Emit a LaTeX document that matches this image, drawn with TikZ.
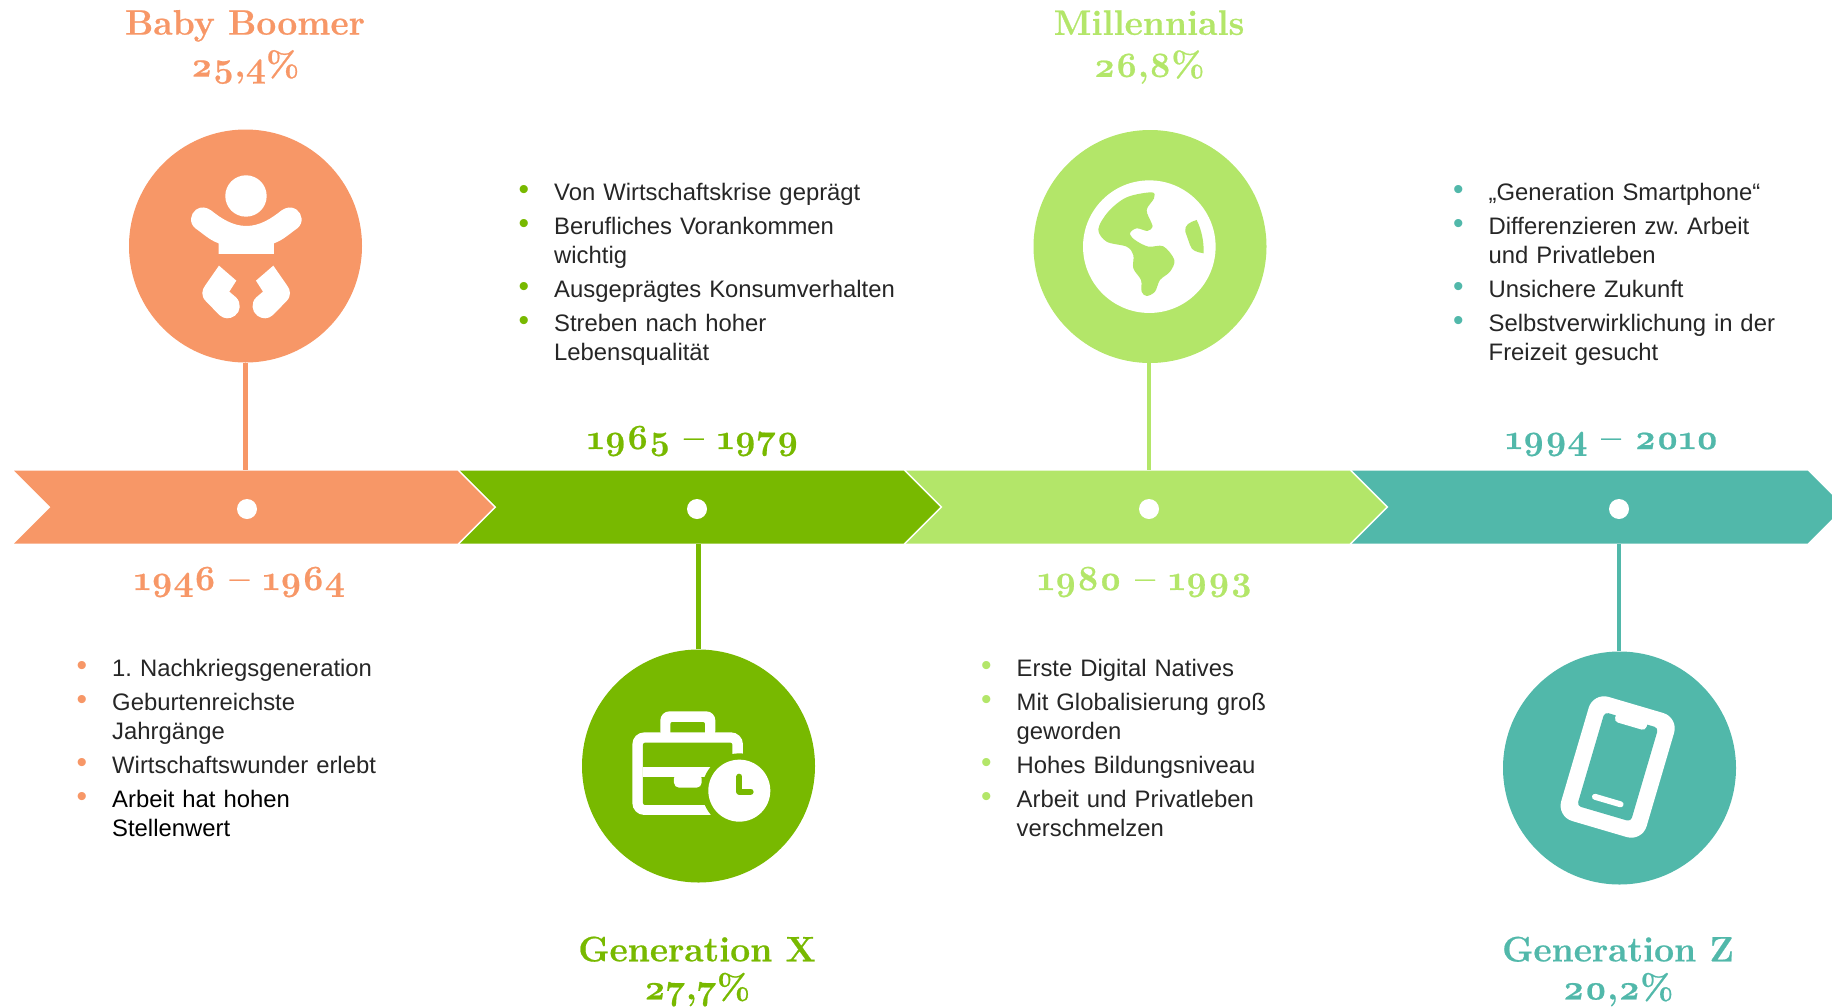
\documentclass[tikz,border=0pt]{standalone}
\usepackage{fontspec}
\newfontfamily\bodyfont{Liberation Sans}
\newfontfamily\headfont[Numbers=OldStyle,BoldFeatures={FakeBold=0.6}]{Latin Modern Roman}
\usetikzlibrary{calc,shapes.symbols,positioning}
\definecolor{boomer}{HTML}{F79767}
\definecolor{genx}{HTML}{78B900}
\definecolor{mill}{HTML}{B3E669}
\definecolor{genz}{HTML}{51B8AA}
\definecolor{bodygray}{HTML}{262626}
\newenvironment{genlist}[1]{\frenchspacing\begin{list}{\textcolor{#1}{\fontsize{30}{30}\selectfont\raisebox{1pt}{\textbullet}}}{\setlength\leftmargin{31pt}\setlength\labelwidth{20pt}\setlength\labelsep{25pt}\setlength\itemsep{5pt}\setlength\parsep{0pt}\setlength\topsep{0pt}\setlength\partopsep{0pt}}}{\end{list}}
\tikzset{x=1pt, y=-1pt,
  segment/.style={signal, signal to=east, signal from=west, signal pointer angle=90, minimum height=73pt, inner sep=0pt, fill=#1, draw=none},
  gencircle/.style={circle, minimum size=233pt, inner sep=0pt, fill=#1},
  bardot/.style={circle, minimum size=20pt, inner sep=0pt, fill=white},
  stem/.style={line width=4.5pt, draw=#1},
  heading/.style={text=#1, font=\headfont\fontsize{35.4}{42}\selectfont\bfseries, align=center, inner sep=0pt},
  years/.style={anchor=base, text=#1, font=\headfont\fontsize{35.4}{40}\selectfont\bfseries, inner sep=0pt},
  itemlist/.style={anchor=north west, text width=#1, inner sep=0pt, text=bodygray, font=\bodyfont\fontsize{23.85}{29}\selectfont},
  zoomed/.style={x=0.3333pt, y=-0.3333pt}}

\begin{document}
\begin{tikzpicture}
    \useasboundingbox (0,0) rectangle (1832,1007);
    \clip (0,0) rectangle (1832,1007);
    \node[segment=boomer, minimum width=480pt] (S1) at (254,507) {};
    \node[segment=genx, minimum width=480pt] (S2) at (700,507) {};
    \node[segment=mill, minimum width=480pt] (S3) at (1146,507) {};
    \node[segment=genz, minimum width=492pt] (S4) at (1598,507) {};

    \node[bardot] (D1) at (247,509) {};
    \node[bardot] (D2) at (697,509) {};
    \node[bardot] (D3) at (1149,509) {};
    \node[bardot] (D4) at (1619,509) {};

    \node[gencircle=boomer] (C1) at (245.5,246) {};
    \node[gencircle=genx] (C2) at (698.5,766) {};
    \node[gencircle=mill] (C3) at (1150,246.5) {};
    \node[gencircle=genz] (C4) at (1619.5,768) {};

    \draw[stem=boomer] (C1.south) -- (C1.south |- S1.north);
    \draw[stem=genx] (C2.north) -- (C2.north |- S2.south);
    \draw[stem=mill] (D3 |- C3.south) -- (D3 |- S3.north);
    \draw[stem=genz] (D4 |- C4.north) -- (D4 |- S4.south);

    \node[heading=boomer] (H1) at (245,47) {Baby Boomer\\25,4\%};
    \node[heading=genx] (H2) at (697,971.5) {Generation X\\[-4pt]27,7\%};
    \node[heading=mill] (H3) at (1149,47) {Millennials\\26,8\%};
    \node[heading=genz] (H4) at (1618,971.5) {Generation Z\\[-4pt]20,2\%};

    \node[years=boomer] (Y1) at (239.5,590) {1946 – 1964};
    \node[years=genx] (Y2) at (693,449) {1965 – 1979};
    \node[years=mill] (Y3) at (1145,590) {1980 – 1993};
    \node[years=genz] (Y4) at (1612,449) {1994 – 2010};

    \node[itemlist=320pt] (L1) at (81,647) {\begin{genlist}{boomer}
        \item 1. Nachkriegsgeneration
        \item Geburtenreichste\newline Jahrgänge
        \item Wirtschaftswunder erlebt
        \item \textcolor{black}{Arbeit hat hohen\newline Stellenwert}
    \end{genlist}};
    \node[itemlist=420pt] (L2) at (523,171) {\begin{genlist}{genx}
        \item Von Wirtschaftskrise geprägt
        \item Berufliches Vorankommen\newline wichtig
        \item Ausgeprägtes Konsumverhalten
        \item Streben nach hoher\newline Lebensqualität
    \end{genlist}};
    \node[itemlist=320pt] (L3) at (985.5,647) {\begin{genlist}{mill}
        \item Erste Digital Natives
        \item Mit Globalisierung groß\newline geworden
        \item Hohes Bildungsniveau
        \item Arbeit und Privatleben\newline verschmelzen
    \end{genlist}};
    \node[itemlist=340pt] (L4) at (1457.5,171) {\begin{genlist}{genz}
        \item „Generation Smartphone“
        \item Differenzieren zw. Arbeit\newline und Privatleben
        \item Unsichere Zukunft
        \item Selbstverwirklichung in der\newline Freizeit gesucht
    \end{genlist}};

    \begin{scope}[shift={(100,110)}, zoomed]
        \fill[white] (438,258) circle (20.7pt);
        \fill[white] (356,432) -- (522,432) -- (522,400) .. controls (550,390) and (570,370) .. (592,355)
            .. controls (612,338) and (607,312) .. (590,299) .. controls (575,288) and (558,292) .. (545,301)
            .. controls (515,325) and (480,348) .. (439,348) .. controls (398,348) and (363,325) .. (333,301)
            .. controls (320,292) and (303,288) .. (288,299) .. controls (271,312) and (266,338) .. (286,355)
            .. controls (308,370) and (328,390) .. (356,400) -- cycle;
        \fill[white] (357,467) -- (409,512) -- (388,545) -- (408,562) .. controls (425,578) and (422,605) .. (405,617)
            .. controls (390,628) and (372,628) .. (358,615) -- (318,574) .. controls (302,558) and (305,540) .. (316,526) -- cycle;
        \fill[white] (520,467) -- (468,512) -- (489,545) -- (469,562) .. controls (452,578) and (455,605) .. (472,617)
            .. controls (487,628) and (505,628) .. (519,615) -- (559,574) .. controls (575,558) and (572,540) .. (561,526) -- cycle;
    \end{scope}

    \begin{scope}[shift={(560,640)}, zoomed]
        \fill[white, rounded corners=9pt] (301,300) rectangle (466,214);
        \fill[genx, rounded corners=2pt] (331,300) rectangle (435,246);
        \fill[white, rounded corners=12pt] (217,277) rectangle (549,525);
        \fill[genx, rounded corners=2pt] (249,308) rectangle (517,495);
        \fill[white] (249,380) rectangle (517,411);
        \fill[white, rounded corners=5pt] (342,400) -- (342,443) -- (425,443) -- (425,400) -- cycle;
        \fill[genx] (538,452) circle (37.3pt);
        \fill[white] (538,452) circle (31pt);
        \draw[genx, line width=6pt, line cap=round, line join=round] (538,410) -- (538,455) -- (572,455);
    \end{scope}

    \begin{scope}[shift={(1020,120)}, zoomed]
        \fill[white] (388,380) circle (66.3pt);
        \fill[mill] plot[smooth cycle, tension=.55] coordinates {(235,328) (265,275) (320,232) (395,217) (402,235) (380,270) (395,310) (397,322) (382,333) (350,325) (330,340) (345,360) (385,380) (430,379) (463,420) (450,455) (420,480) (405,515) (380,528) (365,515) (363,480) (340,445) (340,405) (320,380) (260,365)};
        \fill[mill] (530,300) .. controls (545,330) and (552,365) .. (551,400) .. controls (530,396) and (515,393) .. (510,375)
            -- (496,335) .. controls (492,315) and (510,306) .. (530,300) -- cycle;
    \end{scope}

    \begin{scope}[shift={(1490,650)}, zoomed]
        \begin{scope}[shift={(383,351)}, rotate=-16.4]
            \fill[white, rounded corners=16pt] (-133.5,-194) rectangle (133.5,194);
            \fill[genz, rounded corners=4pt] (-84,-147) rectangle (84,146);
            \fill[white, rounded corners=4pt] (-49,-160) rectangle (49,-128);
            \draw[white, line width=6pt, line cap=round] (-40,105) -- (40,105);
        \end{scope}
    \end{scope}
\end{tikzpicture}
\end{document}
